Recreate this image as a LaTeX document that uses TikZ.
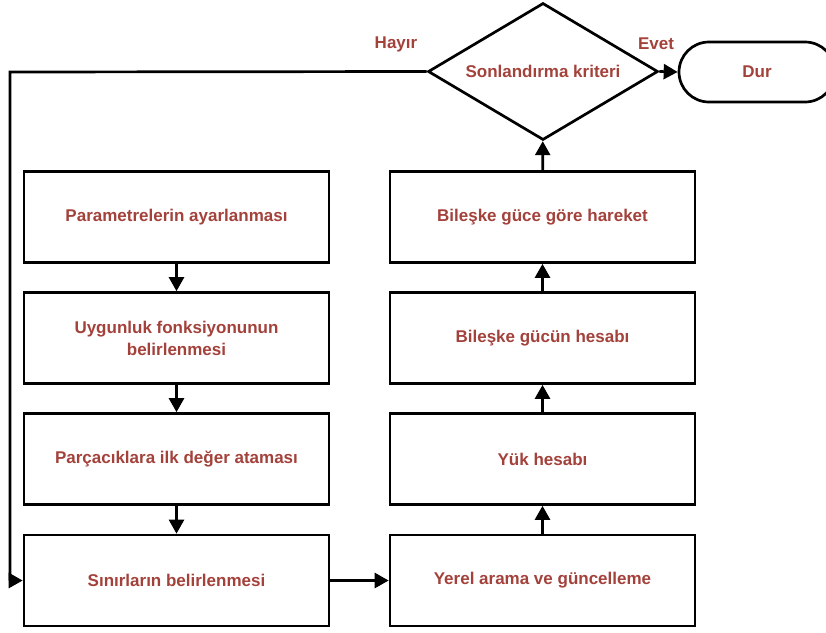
\documentclass[tikz,border=0pt]{standalone}
\usepackage{fontspec}
\setmainfont{Liberation Sans}
\usetikzlibrary{shapes.geometric,arrows.meta}
\definecolor{labelred}{HTML}{A3413B}
\tikzset{
  labelfont/.style={text=labelred, font=\bfseries\fontsize{17}{22}\selectfont},
  procbox/.style={draw, line width=2.7pt, minimum width=305pt, minimum height=91pt,
    inner sep=0pt, align=center, labelfont},
  decision/.style={draw, diamond, line width=2.7pt, minimum width=230pt, minimum height=137pt,
    aspect=1.68, inner sep=0pt, labelfont},
  terminal/.style={draw, line width=2.7pt, rounded corners=30pt, minimum width=156pt,
    minimum height=60pt, inner sep=0pt, labelfont},
  branchlabel/.style={labelfont},
  flow/.style={line width=2.7pt, -{Triangle[length=14pt,width=15pt]}},
}
\begin{document}
\begin{tikzpicture}[x=1pt, y=-1pt]
  \useasboundingbox (0,0) rectangle (826,632);

  % left column
  \node[procbox] (param) at (176.5,217) {Parametrelerin ayarlanması};
  \node[procbox] (fit)   at (176.5,338) {Uygunluk fonksiyonunun\\belirlenmesi};
  \node[procbox] (init)  at (176.5,459) {Parçacıklara ilk değer ataması};
  \node[procbox] (bound) at (176.5,580.5) {Sınırların belirlenmesi};

  % right column
  \node[procbox] (local) at (542.5,580.5) {Yerel arama ve güncelleme};
  \node[procbox] (load)  at (542.5,459) {Yük hesabı};
  \node[procbox] (force) at (542.5,338) {Bileşke gücün hesabı};
  \node[procbox] (move)  at (542.5,217) {Bileşke güce göre hareket};

  % termination test and end
  \node[decision] (crit) at (543,71.5) {Sonlandırma kriteri};
  \node[terminal] (stop) at (757,72) {Dur};

  \node[branchlabel] (no)  at (396,44) {Hayır};
  \node[branchlabel] (yes) at (656,44) {Evet};

  \coordinate (loopTop) at (10,72);
  \coordinate (loopBot) at (10,580.5);

  % connectors
  \draw[flow] (param) -- (fit);
  \draw[flow] (fit) -- (init);
  \draw[flow] (init) -- (bound);
  \draw[flow] (bound) -- (local);
  \draw[flow] (local) -- (load);
  \draw[flow] (load) -- (force);
  \draw[flow] (force) -- (move);
  \draw[flow] (move) -- (crit);
  \draw[flow] (crit.east) -- (stop.west);
  \draw[flow] (crit.west) -- (loopTop) -- (loopBot) -- (bound.west);
\end{tikzpicture}
\end{document}
